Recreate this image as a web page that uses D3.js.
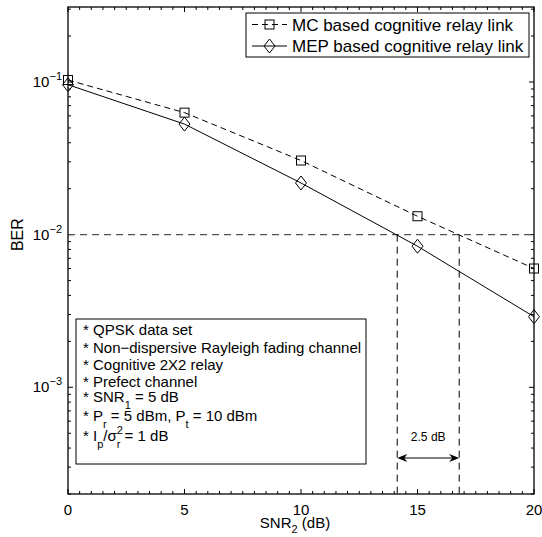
<!DOCTYPE html>
<html>
<head>
<meta charset="utf-8">
<script src="https://cdn.jsdelivr.net/npm/d3@7"></script>
<style>
  body { margin: 0; background: #fff; }
  text { font-family: "Liberation Sans", Arial, sans-serif; fill: #000; }
</style>
</head>
<body>
<svg id="chart"></svg>
<script>
// data
var snr = [0, 5, 10, 15, 20];
var berMC = [0.103, 0.063, 0.0306, 0.0132, 0.0060];
var berMEP = [0.096, 0.053, 0.0218, 0.0084, 0.0029];
var xTicks = [0, 5, 10, 15, 20];
var yTicks = [1e-3, 1e-2, 1e-1];
var targetBER = 0.01;
var crossSNR = [14.13, 16.79];
var gapLabel = "2.5 dB";
var legendLabels = ["MC based cognitive relay link", "MEP based cognitive relay link"];
// note lines: [text, mode] pieces, mode "" normal, "sub" subscript, "sup" superscript
var notes = [
  [["* QPSK data set", ""]],
  [["* Non\u2212dispersive Rayleigh fading channel", ""]],
  [["* Cognitive 2X2 relay", ""]],
  [["* Prefect channel", ""]],
  [["* SNR", ""], ["1", "sub"], [" = 5 dB", ""]],
  [["* P", ""], ["r", "sub"], [" = 5 dBm, P", ""], ["t", "sub"], [" = 10 dBm", ""]],
  [["* I", ""], ["p", "sub"], ["/\u03c3", ""], ["2", "sup"], ["r", "substack"], [" = 1 dB", ""]]
];
var noteY = [330, 348, 365, 382, 397, 416, 436];

var width = 542, height = 537;
var padL = 68, padR = 534, padT = 7, padB = 494;

var svg = d3.select("#chart").attr("width", width).attr("height", height);

var x = d3.scaleLinear().domain([0, 20]).range([padL, padR]);
var y = d3.scaleLog().domain([2e-4, 0.31]).range([padB, padT]);

// minor ticks
var xMinor = d3.range(0, 20.01, 0.5);
var yMinor = [];
[-4, -3, -2, -1].forEach(function(e) {
  for (var k = 1; k < 10; k++) {
    var v = k * Math.pow(10, e);
    if (v >= 2e-4 && v <= 0.31) yMinor.push(v);
  }
});

var axes = svg.append("g");
var tk = axes.append("g").attr("stroke", "#000").attr("stroke-width", 1);
xMinor.forEach(function(v) {
  var len = xTicks.indexOf(v) >= 0 ? 5 : 3;
  tk.append("line").attr("x1", x(v)).attr("x2", x(v)).attr("y1", padB).attr("y2", padB - len);
  tk.append("line").attr("x1", x(v)).attr("x2", x(v)).attr("y1", padT).attr("y2", padT + len);
});
yMinor.forEach(function(v) {
  var major = yTicks.some(function(t) { return Math.abs(t - v) / t < 1e-6; });
  var len = major ? 5 : 3;
  tk.append("line").attr("y1", y(v)).attr("y2", y(v)).attr("x1", padL).attr("x2", padL + len);
  tk.append("line").attr("y1", y(v)).attr("y2", y(v)).attr("x1", padR).attr("x2", padR - len);
});

// tick labels
xTicks.forEach(function(v) {
  axes.append("text").attr("x", x(v)).attr("y", 515)
    .attr("text-anchor", "middle").style("font-size", "15px").text(v);
});
yTicks.forEach(function(v) {
  var e = Math.round(Math.log10(v));
  var t = axes.append("text").attr("x", 62).attr("y", y(v) + 5)
    .attr("text-anchor", "end").style("font-size", "15px");
  t.append("tspan").text("10");
  t.append("tspan").attr("dy", -7).style("font-size", "11px").text("\u2212" + (-e));
});

// axis titles
var xl = axes.append("text").attr("x", 295).attr("y", 528)
  .attr("text-anchor", "middle").style("font-size", "15px");
xl.append("tspan").text("SNR");
xl.append("tspan").attr("dy", 5).style("font-size", "11px").text("2");
xl.append("tspan").attr("dy", -5).text(" (dB)");

axes.append("text").attr("transform", "translate(23," + y(0.01) + ") rotate(-90)")
  .attr("text-anchor", "middle").style("font-size", "16px").text("BER");

// reference lines
var ref = svg.append("g").attr("fill", "none");
ref.append("line").attr("x1", padL).attr("x2", padR).attr("y1", y(targetBER)).attr("y2", y(targetBER))
  .attr("stroke", "#555").attr("stroke-width", 1.3).attr("stroke-dasharray", "7,5");
crossSNR.forEach(function(v) {
  ref.append("line").attr("x1", x(v)).attr("x2", x(v)).attr("y1", y(targetBER)).attr("y2", padB)
    .attr("stroke", "#000").attr("stroke-width", 1).attr("stroke-dasharray", "7,5");
});

// series
var line = d3.line().x(function(d) { return x(d[0]); }).y(function(d) { return y(d[1]); });
var mc = d3.zip(snr, berMC), mep = d3.zip(snr, berMEP);
svg.append("path").attr("d", line(mc)).attr("fill", "none").attr("stroke", "#000")
  .attr("stroke-width", 1).attr("stroke-dasharray", "6,4");
svg.append("path").attr("d", line(mep)).attr("fill", "none").attr("stroke", "#000")
  .attr("stroke-width", 1);

function square(g, cx, cy) {
  g.append("rect").attr("x", cx - 4.5).attr("y", cy - 4.5).attr("width", 9).attr("height", 9)
    .attr("fill", "none").attr("stroke", "#000").attr("stroke-width", 1);
}
function diamond(g, cx, cy) {
  g.append("path").attr("d", "M" + cx + "," + (cy - 7) + "L" + (cx + 5.5) + "," + cy +
    "L" + cx + "," + (cy + 7) + "L" + (cx - 5.5) + "," + cy + "Z")
    .attr("fill", "none").attr("stroke", "#000").attr("stroke-width", 1);
}
var mk = svg.append("g");
mc.forEach(function(d) { square(mk, x(d[0]), y(d[1])); });
mep.forEach(function(d) { diamond(mk, x(d[0]), y(d[1])); });

// double arrow with label
var ay = 458, ax1 = x(crossSNR[0]), ax2 = x(crossSNR[1]);
var ar = svg.append("g");
ar.append("line").attr("x1", ax1 + 4).attr("x2", ax2 - 4).attr("y1", ay).attr("y2", ay)
  .attr("stroke", "#000").attr("stroke-width", 1);
ar.append("path").attr("d", "M" + ax1 + "," + ay + "L" + (ax1 + 10) + "," + (ay - 4) +
  "L" + (ax1 + 7) + "," + ay + "L" + (ax1 + 10) + "," + (ay + 4) + "Z").attr("fill", "#000");
ar.append("path").attr("d", "M" + ax2 + "," + ay + "L" + (ax2 - 10) + "," + (ay - 4) +
  "L" + (ax2 - 7) + "," + ay + "L" + (ax2 - 10) + "," + (ay + 4) + "Z").attr("fill", "#000");
svg.append("text").attr("x", (ax1 + ax2) / 2).attr("y", 441).attr("text-anchor", "middle")
  .style("font-size", "12px").text(gapLabel);

// notes box
var nb = svg.append("g");
nb.append("rect").attr("x", 76).attr("y", 319).attr("width", 290).attr("height", 145)
  .attr("fill", "#fff").attr("stroke", "#000").attr("stroke-width", 1);
notes.forEach(function(parts, i) {
  var t = nb.append("text").attr("x", 83).attr("y", noteY[i] + 5).style("font-size", "15px");
  var off = 0;
  parts.forEach(function(p) {
    var s = t.append("tspan").text(p[0]);
    var target = 0, fs = null, dx = null;
    if (p[1] === "sub") { target = 7; fs = "11px"; }
    if (p[1] === "sup") { target = -7; fs = "11px"; }
    if (p[1] === "substack") { target = 7; fs = "11px"; dx = -6.1; }
    s.attr("dy", target - off);
    if (fs) s.style("font-size", fs);
    if (dx !== null) s.attr("dx", dx);
    off = target;
  });
});

// legend
var lg = svg.append("g");
var lgFont = 17;
var bx2 = 529, bx1 = 246, by1 = 13, by2 = 57;
lg.append("rect").attr("x", bx1).attr("y", by1).attr("width", bx2 - bx1).attr("height", by2 - by1)
  .attr("fill", "#fff").attr("stroke", "#000").attr("stroke-width", 1);
var rows = [24.5, 46];
rows.forEach(function(ry, i) {
  var l = lg.append("line").attr("x1", bx1 + 6).attr("x2", bx1 + 41).attr("y1", ry).attr("y2", ry)
    .attr("stroke", "#000").attr("stroke-width", 1);
  if (i === 0) { l.attr("stroke-dasharray", "6,4"); square(lg, bx1 + 23.5, ry); }
  else diamond(lg, bx1 + 23.5, ry);
  lg.append("text").attr("x", bx1 + 46).attr("y", ry + 6).style("font-size", lgFont + "px")
    .text(legendLabels[i]);
});

// frame
svg.append("rect").attr("x", padL).attr("y", padT).attr("width", padR - padL).attr("height", padB - padT)
  .attr("fill", "none").attr("stroke", "#000").attr("stroke-width", 1.3);
</script>
</body>
</html>
